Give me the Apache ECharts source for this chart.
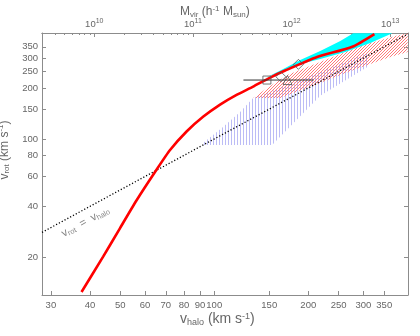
<!DOCTYPE html>
<html><head><meta charset="utf-8">
<script src="https://cdn.jsdelivr.net/npm/echarts@6/dist/echarts.min.js"></script>
<style>html,body{margin:0;padding:0;background:#fff}#c{width:420px;height:336px}</style>
</head><body><div id="c"></div>
<script>
// ---- axis values ----
const xRange = [28.1, 417];          // v_halo (km/s)
const yRange = [12, 422];            // v_rot (km/s)
const massExpRange = [9.47, 13.18];  // log10 M_vir on top axis
const xTicks = [30,40,50,60,70,80,90,100,150,200,250,300,350];
const yTicks = [20,40,60,80,100,150,200,250,300,350];
const massTicks = [10,11,12,13];

// ---- red model curve ----
const redVhalo = [37.6,44.1,49.9,56.5,65.1,72.2,81.7,92.3,104.4,117.5,133.2,149.9,168.7,213.3,276.6,325.6];
const redVrot  = [12.5,20.2,29.7,43.6,65.1,86.0,111.0,135.6,159.6,181.6,203.8,228.8,253.4,304.4,350,416];

// ---- identity line v_rot = v_halo ----
const identityV = [28.1, 417];

// ---- cyan band (polygon outline) ----
const cyanV    = [145.6,166.3,188.5,218.4,253.2,278.6,371.5,315.9,262.7,218.4,188.5,166.3];
const cyanVrot = [228.8,258.7,292.2,330.2,378.4,420,420,368.3,325.8,296.2,276.8,251.7];

// ---- pink hatched band ----
const pinkV    = [133.2,151,171.2,218.4,262.7,315.9,379.9,416,416,366.1,315.9,262.7,218.4,162.6];
const pinkVrot = [174.3,205.3,238.4,284.4,325.8,368.3,404.9,420,326,304.4,277,244.9,213.8,174.3];

// ---- blue hatched band ----
const blueV    = [92.1,106.7,121,133.2,162.6,218.4,262.7,309,309,218.4,153.2,92.1];
const blueVrot = [94.6,117.5,144.1,174.3,199.8,248.3,284.4,321.4,265.8,180,92,92];

// ---- data points ----
const squareV = [147.4],  squareVrot = [222.7];
const diamondV = [186,163.4], diamondVrot = [275.6,233];
const triangleV = [171.6], triangleVrot = [222.7];
const errV = [124, 208], errVrot = [222.7, 222.7];

// ---- annotation ----
const noteV = [38.7], noteVrot = [32.5];

const L = Math.log10;
const FONT = 'Liberation Sans';
const AX = '#8c8c8c', TX = '#666';

function hatch(kind){
  const c = document.createElement('canvas');
  const g = c.getContext('2d');
  if (kind === 'v'){ c.width=3; c.height=3; g.fillStyle='#bcbcf6'; g.fillRect(0,0,1,3); }
  else { c.width=3; c.height=3; g.fillStyle='#ff7a7a'; for(let i=0;i<3;i++) g.fillRect(i,2-i,1,1); }
  return {image:c, repeat:'repeat'};
}
function band(vs, rs, fill, z){
  return {type:'custom', coordinateSystem:'cartesian2d', xAxisIndex:0, yAxisIndex:0, clip:true, silent:true, z,
    data:[[2,2]],
    renderItem:(p, api)=>({type:'polygon', shape:{points: vs.map((v,i)=>api.coord([L(v), L(rs[i])]))}, style:{fill, stroke:null}})};
}
function pts(vs, rs){ return vs.map((v,i)=>[L(v), L(rs[i])]); }
const richT = (fs, ss)=>({
  sub:{fontSize:ss, color:TX, fontFamily:FONT, fontWeight:'normal', padding:[Math.round(ss*0.7),0,0,0]},
  sup:{fontSize:ss, color:TX, fontFamily:FONT, fontWeight:'normal', padding:[0,0,Math.round(ss*0.7),0]},
  n:{fontSize:fs, color:TX, fontFamily:FONT, fontWeight:'normal'}
});
const minorMass = [];
for (let d=9; d<=13; d++) for (let k=2;k<=9;k++){ const m=d+L(k); if (m>massExpRange[0] && m<massExpRange[1]) minorMass.push(m); }

const base = {type:'value', splitLine:{show:false},
  axisLine:{show:true, onZero:false, lineStyle:{color:AX, width:1}},
  axisTick:{inside:true, length:4, lineStyle:{color:AX}},
  axisLabel:{color:TX, fontSize:9.5, fontFamily:FONT}};

const option = {
  animation:false,
  title:[
    {text:'{n|v}{sub|halo}{n| (km s}{sup|-1}{n|)}', left:180, top:312, padding:0,
      textStyle:{fontWeight:'normal', rich:richT(14, 9)}},
    {text:'{n|M}{sub|vir}{n| (h}{sup|-1}{n| M}{sub|sun}{n|)}', left:180, top:5, padding:0,
      textStyle:{fontWeight:'normal', rich:richT(12, 8)}}
  ],
  grid:{left:42, right:12, top:33, bottom:41, outerBoundsMode:'none', containLabel:false},
  xAxis:[
    Object.assign({}, base, {position:'bottom', min:L(xRange[0]), max:L(xRange[1]),
      axisTick:Object.assign({}, base.axisTick, {customValues:xTicks.map(L)}),
      axisLabel:Object.assign({}, base.axisLabel, {customValues:xTicks.map(L), margin:5, formatter:v=>String(Math.round(Math.pow(10,v)))})}),
    Object.assign({}, base, {position:'top', min:massExpRange[0], max:massExpRange[1],
      axisTick:Object.assign({}, base.axisTick, {customValues:massTicks}),
      axisLabel:Object.assign({}, base.axisLabel, {customValues:massTicks, margin:3, formatter:v=>'{n|10}{sup|'+Math.round(v)+'}', rich:richT(9.5, 7)})}),
    Object.assign({}, base, {position:'top', min:massExpRange[0], max:massExpRange[1],
      axisTick:{inside:true, length:2, lineStyle:{color:AX}, customValues:minorMass},
      axisLabel:{show:false}})
  ],
  yAxis:[
    Object.assign({}, base, {position:'left', min:L(yRange[0]), max:L(yRange[1]),
      axisTick:Object.assign({}, base.axisTick, {customValues:yTicks.map(L)}),
      axisLabel:Object.assign({}, base.axisLabel, {customValues:yTicks.map(L), margin:4, formatter:v=>String(Math.round(Math.pow(10,v)))}),
      name:'{n|v}{sub|rot}{n| (km s}{sup|-1}{n|)}', nameLocation:'middle', nameGap:22, nameRotate:90,
      nameTextStyle:{rich:richT(12, 8), padding:[0,0,0,28]}}),
    Object.assign({}, base, {position:'right', min:L(yRange[0]), max:L(yRange[1]),
      axisTick:Object.assign({}, base.axisTick, {customValues:yTicks.map(L)}),
      axisLabel:{show:false}})
  ],
  series:[
    band(blueV, blueVrot, hatch('v'), 1),
    band(pinkV, pinkVrot, hatch('d'), 2),
    band(cyanV, cyanVrot, '#00ffff', 3),
    {type:'line', data:pts(identityV, identityV), symbol:'none', z:4,
      lineStyle:{color:'#000', width:1.3, type:[1.2,2]}},
    {type:'line', data:pts(redVhalo, redVrot), symbol:'none', smooth:0.2, z:5,
      lineStyle:{color:'#ff0000', width:2.6}},
    {type:'line', data:pts(errV, errVrot), symbol:'none', z:6, lineStyle:{color:'#333', width:1}},
    {type:'scatter', data:pts(squareV, squareVrot), symbol:'rect', symbolSize:8, z:7,
      itemStyle:{color:'rgba(255,255,255,0)', borderColor:'#555', borderWidth:1}},
    {type:'scatter', data:pts(diamondV, diamondVrot), symbol:'diamond', symbolSize:10, z:7,
      itemStyle:{color:'rgba(255,255,255,0)', borderColor:'#555', borderWidth:1}},
    {type:'scatter', data:pts(triangleV, triangleVrot), symbol:'triangle', symbolSize:9, z:7,
      itemStyle:{color:'rgba(255,255,255,0)', borderColor:'#555', borderWidth:1}},
    {type:'scatter', data:pts(noteV, noteVrot), symbolSize:0, z:8, silent:true,
      label:{show:true, position:'inside', rotate:28.5, formatter:'{n|v}{sub|rot}{n|  =  v}{sub|halo}', rich:richT(11, 7.5)}}
  ]
};
echarts.init(document.getElementById('c'), null, {renderer:'canvas'}).setOption(option);
</script></body></html>
